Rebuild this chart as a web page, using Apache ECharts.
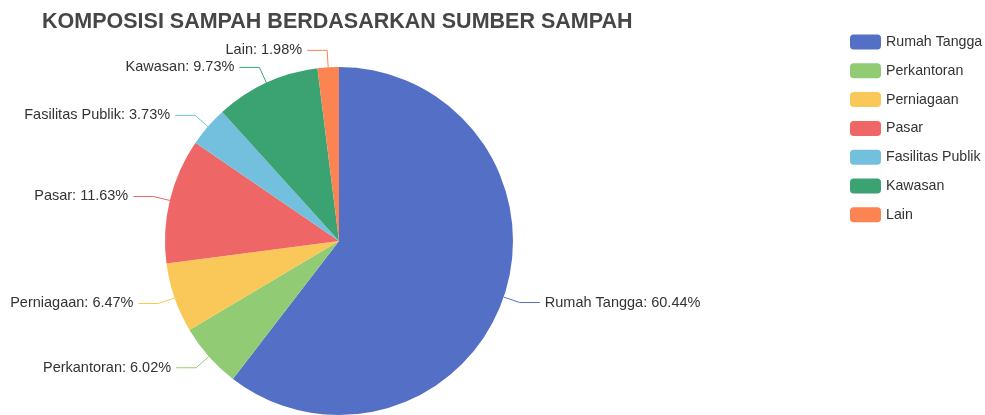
<!DOCTYPE html>
<html>
<head>
<meta charset="utf-8">
<script src="https://cdn.jsdelivr.net/npm/echarts@6/dist/echarts.min.js"></script>
<style>
html,body{margin:0;padding:0;background:#fff;}
#chart{width:985px;height:415px;}
</style>
</head>
<body>
<div id="chart"></div>
<script>
const titleText = 'KOMPOSISI SAMPAH BERDASARKAN SUMBER SAMPAH';
const categories = ['Rumah Tangga', 'Perkantoran', 'Perniagaan', 'Pasar', 'Fasilitas Publik', 'Kawasan', 'Lain'];
const values = [60.44, 6.02, 6.47, 11.63, 3.73, 9.73, 1.98];
const colors = ['#5470c6', '#91cc75', '#fac858', '#ee6666', '#73c0de', '#3ba272', '#fc8452'];

const chart = echarts.init(document.getElementById('chart'), null, {renderer: 'canvas'});
const font = "'Liberation Sans', Arial, sans-serif";
chart.setOption({
  animation: false,
  color: colors,
  textStyle: {fontFamily: font},
  title: {
    text: titleText,
    left: 37,
    top: 6,
    textStyle: {fontFamily: font, fontSize: 21.5, fontWeight: 'bold', color: '#464646'}
  },
  legend: {
    orient: 'vertical',
    left: 845,
    top: 29.5,
    itemWidth: 31,
    itemHeight: 15,
    itemGap: 13.8,
    textStyle: {fontFamily: font, fontSize: 14.2, color: '#333'},
    data: categories
  },
  series: [{
    type: 'pie',
    center: [339, 241],
    radius: [0, 174],
    startAngle: 90,
    clockwise: true,
    data: categories.map((c, i) => ({name: c, value: values[i]})),
    label: {
      formatter: p => p.name + ': ' + p.value.toFixed(2) + '%',
      fontFamily: font,
      fontSize: 14.5,
      color: '#333'
    },
    labelLine: {length: 17, length2: 20, lineStyle: {width: 1}},
    itemStyle: {borderWidth: 0}
  }]
});
</script>
</body>
</html>
